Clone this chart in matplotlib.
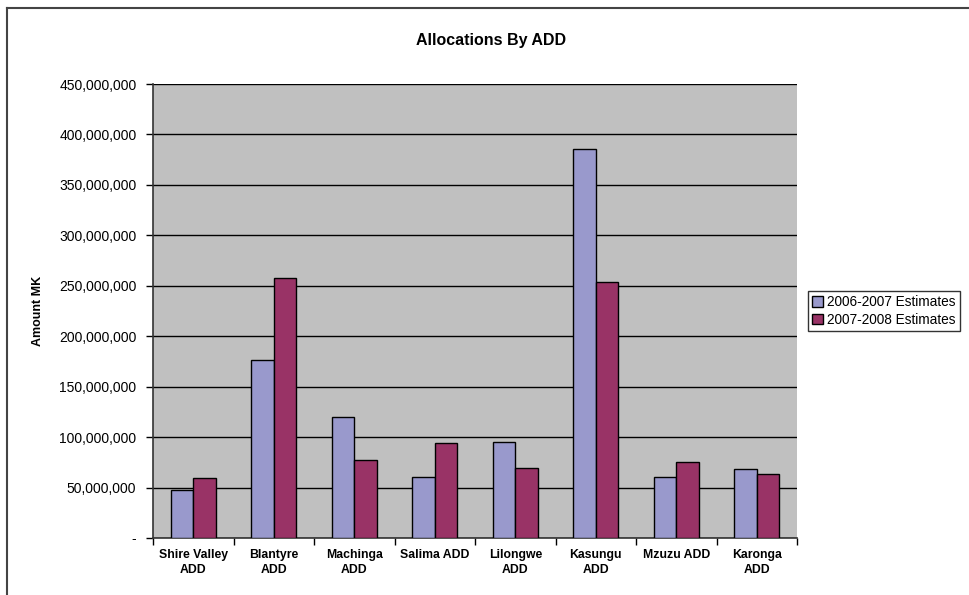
import numpy as np
import matplotlib
matplotlib.use("Agg")
from matplotlib import pyplot as plt
from matplotlib.lines import Line2D
from matplotlib.ticker import FuncFormatter

plt.rcParams['font.family'] = ['Liberation Sans', 'DejaVu Sans']

categories = ["Shire Valley\nADD", "Blantyre\nADD", "Machinga\nADD", "Salima ADD",
              "Lilongwe\nADD", "Kasungu\nADD", "Mzuzu ADD", "Karonga\nADD"]
est_2006_2007 = [48e6, 176e6, 120e6, 60e6, 95e6, 386e6, 60e6, 68e6]
est_2007_2008 = [59e6, 258e6, 77e6, 94e6, 69e6, 254e6, 75e6, 63e6]
series_names = ["2006-2007 Estimates", "2007-2008 Estimates"]

fig = plt.figure(figsize=(9.69, 5.95), dpi=100)
ax = fig.add_axes([0.158, 0.0958, 0.6645, 0.763])
ax.set_facecolor("#C0C0C0")

x = np.arange(len(categories))
w = 0.28
ax.bar(x - w / 2, est_2006_2007, w, color="#9999CC", edgecolor="black",
       linewidth=1.0, label=series_names[0], zorder=3)
ax.bar(x + w / 2, est_2007_2008, w, color="#993366", edgecolor="black",
       linewidth=1.0, label=series_names[1], zorder=3)

ax.set_xlim(-0.5, len(categories) - 0.5)
ax.set_ylim(0, 450e6)
ax.set_yticks(np.arange(0, 450e6 + 1, 50e6))
ax.yaxis.set_major_formatter(FuncFormatter(lambda v, p: "-" if v == 0 else f"{v:,.0f}"))
ax.grid(axis="y", color="black", linewidth=1.0, zorder=1)
ax.tick_params(axis="y", direction="out", length=5, width=1, labelsize=10, pad=7)

ax.set_xticks(x)
ax.set_xticklabels(categories, fontsize=8.8, fontweight="bold", linespacing=1.3)
ax.set_xticks(np.arange(-0.5, len(categories), 1), minor=True)
ax.tick_params(axis="x", which="major", length=0, pad=8)
ax.tick_params(axis="x", which="minor", direction="out", length=5, width=1)

for s in ["top", "right"]:
    ax.spines[s].set_visible(False)
ax.spines["left"].set_color("#333333")
ax.spines["bottom"].set_color("#333333")
ax.spines["left"].set_linewidth(1.2)
ax.spines["bottom"].set_linewidth(1.2)

ax.set_ylabel("Amount MK", fontsize=9, fontweight="bold")
ax.yaxis.set_label_coords(-0.17, 0.5)
fig.text(0.507, 0.932, "Allocations By ADD", ha="center", va="center",
         fontsize=11.5, fontweight="bold")

leg = ax.legend(loc="center left", bbox_to_anchor=(1.017, 0.5), fontsize=9.8,
                frameon=True, fancybox=False, edgecolor="black",
                handlelength=0.8, handleheight=0.8, handletextpad=0.3,
                borderpad=0.3, labelspacing=0.25, borderaxespad=0)
leg.get_frame().set_linewidth(1.0)

# chart frame (top and left edges visible)
fig.add_artist(Line2D([7 / 969, 7 / 969], [0, 1 - 8 / 595], color="#444444", linewidth=1.5))
fig.add_artist(Line2D([7 / 969, 1], [1 - 8 / 595, 1 - 8 / 595], color="#444444", linewidth=1.5))

fig.savefig("out.png", dpi=100)
